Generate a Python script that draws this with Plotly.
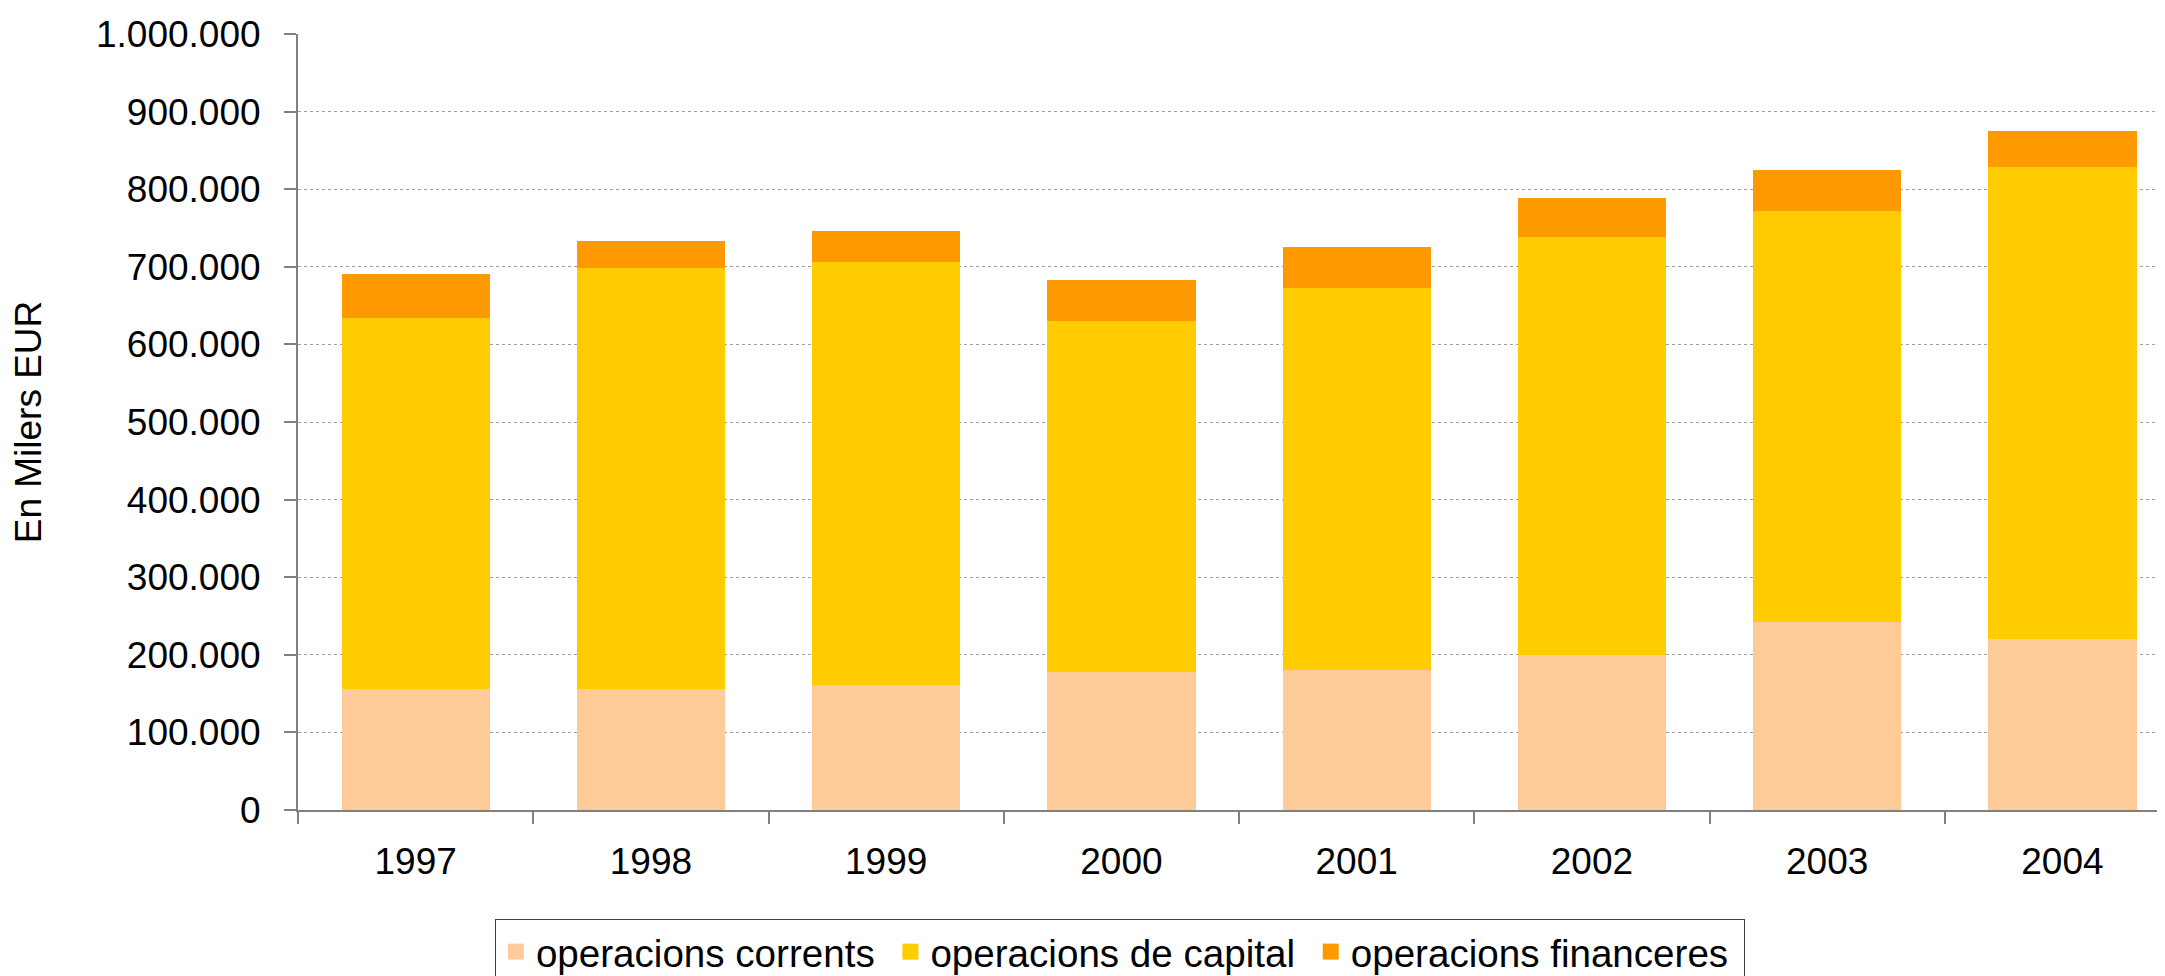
import plotly.graph_objects as go

years = ["1997", "1998", "1999", "2000", "2001", "2002", "2003", "2004"]
corrents = [156000, 156000, 161000, 178000, 180000, 200000, 242000, 221000]
capital = [478000, 542000, 545000, 452000, 493000, 538000, 530000, 608000]
financeres = [57000, 35000, 40000, 53000, 53000, 51000, 53000, 46000]

series = [
    ("operacions corrents", corrents, "#FFCC99"),
    ("operacions de capital", capital, "#FFCC00"),
    ("operacions financeres", financeres, "#FF9900"),
]

FONT = "Arial, Liberation Sans, sans-serif"

fig = go.Figure()
for name, vals, col in series:
    fig.add_trace(go.Bar(x=years, y=vals, name=name, showlegend=False,
                         marker=dict(color=col, line=dict(width=0))))
# legend entries (larger square swatches)
for name, vals, col in series:
    fig.add_trace(go.Scatter(x=[None], y=[None], mode="markers", name=name + "\u00a0",
                             marker=dict(symbol="square", size=26, color=col),
                             showlegend=True))

fig.update_layout(
    barmode="stack",
    bargap=0.37,
    width=2165, height=976,
    margin=dict(l=290, r=0, t=26, b=174, autoexpand=False),
    paper_bgcolor="white", plot_bgcolor="white",
    separators=",.",
    font=dict(family=FONT, size=37, color="black"),
    xaxis=dict(
        type="category",
        range=[-0.5, 7.47],
        automargin=False,
        showline=True, linecolor="#808080", linewidth=2,
        ticks="outside", tickson="boundaries", ticklen=12, tickcolor="#808080", tickwidth=2,
        showgrid=False,
        tickfont=dict(size=37),
        ticklabelstandoff=18,
    ),
    yaxis=dict(
        range=[0, 1000000], dtick=100000,
        tickformat=",d",
        automargin=False,
        showline=True, linecolor="#808080", linewidth=2,
        ticks="outside", ticklen=12, tickcolor="#808080", tickwidth=2,
        showgrid=True, gridcolor="#A0A0A0", griddash="dot", gridwidth=1,
        zeroline=False,
        tickfont=dict(size=37),
        ticklabelstandoff=16,
        title=dict(text="En Milers EUR", font=dict(size=37), standoff=52),
    ),
    showlegend=True,
    legend=dict(
        orientation="h",
        x=0.105, xanchor="left",
        y=-0.1405, yanchor="top",
        bordercolor="#404040", borderwidth=1,
        font=dict(size=38.6),
        traceorder="normal",
        itemwidth=30,
        itemsizing="trace",
        tracegroupgap=0,
    ),
)

fig.write_html("out.html")
